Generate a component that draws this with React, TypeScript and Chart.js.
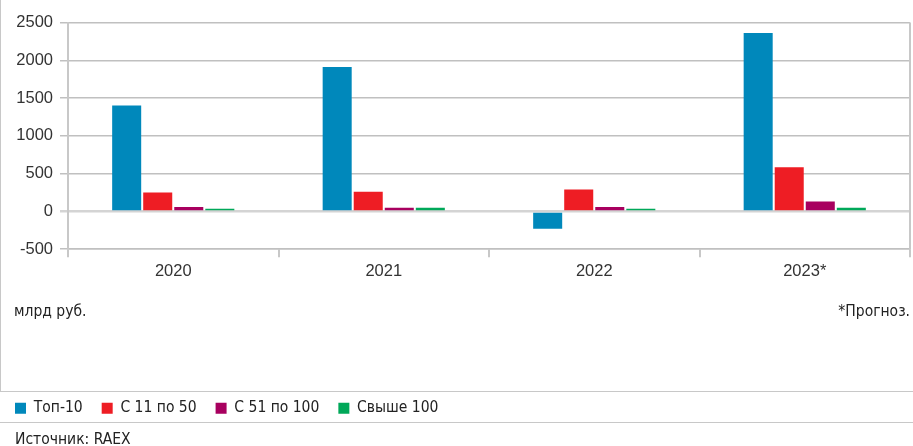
import { useEffect, useRef } from 'react';
import { Chart, registerables } from 'chart.js';

Chart.register(...registerables);

const categories = ['2020', '2021', '2022', '2023*'];
const seriesLabels = ['Топ-10', 'С 11 по 50', 'С 51 по 100', 'Свыше 100'];
const top10 = [1400, 1910, -230, 2360];
const from11to50 = [250, 260, 290, 585];
const from51to100 = [60, 50, 60, 130];
const over100 = [35, 50, 35, 50];
const seriesColors = ['#0088bb', '#ee1d24', '#a8005f', '#00a859'];
const yMin = -500;
const yMax = 2500;
const yStep = 500;
const unitNote = 'млрд руб.';
const forecastNote = '*Прогноз.';
const sourceNote = 'Источник: RAEX';

const GRID = '#c0c0c0';
const AXIS = '#c8c8c8';
const NARROW = '"DejaVu Sans Condensed", "Liberation Sans", Arial, sans-serif';
const REGULAR = '"Liberation Sans", Arial, sans-serif';

const rightFrame = {
  id: 'rightFrame',
  afterDraw(chart: any) {
    const { ctx, chartArea } = chart;
    const x = Math.round(chartArea.right);
    ctx.save();
    ctx.strokeStyle = AXIS;
    ctx.lineWidth = 2;
    ctx.beginPath();
    ctx.moveTo(x, chartArea.top);
    ctx.lineTo(x, chartArea.bottom);
    ctx.stroke();
    ctx.restore();
  },
};

export default function App() {
  const ref = useRef<HTMLCanvasElement | null>(null);

  useEffect(() => {
    document.body.style.margin = '0';
    const seriesData = [top10, from11to50, from51to100, over100];
    const chart = new Chart(ref.current as HTMLCanvasElement, {
      type: 'bar',
      data: {
        labels: categories,
        datasets: seriesLabels.map((label, i) => ({
          label,
          data: seriesData[i],
          backgroundColor: seriesColors[i],
          borderWidth: 0,
          barPercentage: 0.935,
          categoryPercentage: 0.59,
        })),
      },
      options: {
        animation: false,
        responsive: true,
        maintainAspectRatio: false,
        layout: { padding: { top: 22.5, left: -4, right: 3, bottom: 20 } },
        plugins: {
          tooltip: { enabled: false },
          legend: {
            position: 'bottom',
            align: 'start',
            labels: {
              boxWidth: 11,
              boxHeight: 11,
              padding: 19,
              color: '#222',
              font: { family: NARROW, size: 15.5 },
            },
          },
        },
        scales: {
          x: {
            grid: {
              display: true,
              drawOnChartArea: false,
              drawTicks: true,
              tickLength: 8,
              color: AXIS,
              lineWidth: 2,
              offset: true,
            },
            border: { display: true, color: GRID, width: 1.5 },
            ticks: { color: '#333', font: { family: REGULAR, size: 16.5 }, padding: 4 },
            title: { display: true, text: '', font: { size: 10 }, padding: { top: 84.5, bottom: 0 } },
          },
          y: {
            min: yMin,
            max: yMax,
            ticks: {
              stepSize: yStep,
              padding: 7,
              color: '#333',
              font: { family: REGULAR, size: 16.5 },
              callback: (v: any) => String(v),
            },
            grid: {
              color: (c: any) => (c.tick && c.tick.value === 0 ? '#d4d4d4' : GRID),
              lineWidth: (c: any) => (c.tick && c.tick.value === 0 ? 2.5 : 1.5),
              tickLength: 8,
              drawTicks: true,
            },
            border: { display: true, color: AXIS, width: 2 },
            afterFit: (s: any) => {
              s.width = 72;
            },
          },
        },
      },
      plugins: [rightFrame],
    } as any);
    return () => chart.destroy();
  }, []);

  const noteStyle: React.CSSProperties = {
    position: 'absolute',
    fontFamily: NARROW,
    fontSize: 15.5,
    lineHeight: '18px',
    color: '#222',
    whiteSpace: 'nowrap',
  };

  return (
    <div style={{ position: 'relative', width: 913, height: 446, overflow: 'hidden', background: '#fff' }}>
      <div style={{ position: 'absolute', left: 0, top: 0, width: 913, height: 446 }}>
        <canvas ref={ref} />
      </div>
      <div style={{ position: 'absolute', left: 0, top: 0, width: 1, height: 391, background: '#c8c8c8' }} />
      <div style={{ position: 'absolute', left: 0, top: 391, width: 913, height: 1, background: '#c8c8c8' }} />
      <div style={{ position: 'absolute', left: 0, top: 422, width: 913, height: 1, background: '#c8c8c8' }} />
      <div style={{ ...noteStyle, left: 14, top: 302 }}>{unitNote}</div>
      <div style={{ ...noteStyle, right: 3, top: 302 }}>{forecastNote}</div>
      <div style={{ ...noteStyle, left: 15, top: 430 }}>{sourceNote}</div>
    </div>
  );
}
